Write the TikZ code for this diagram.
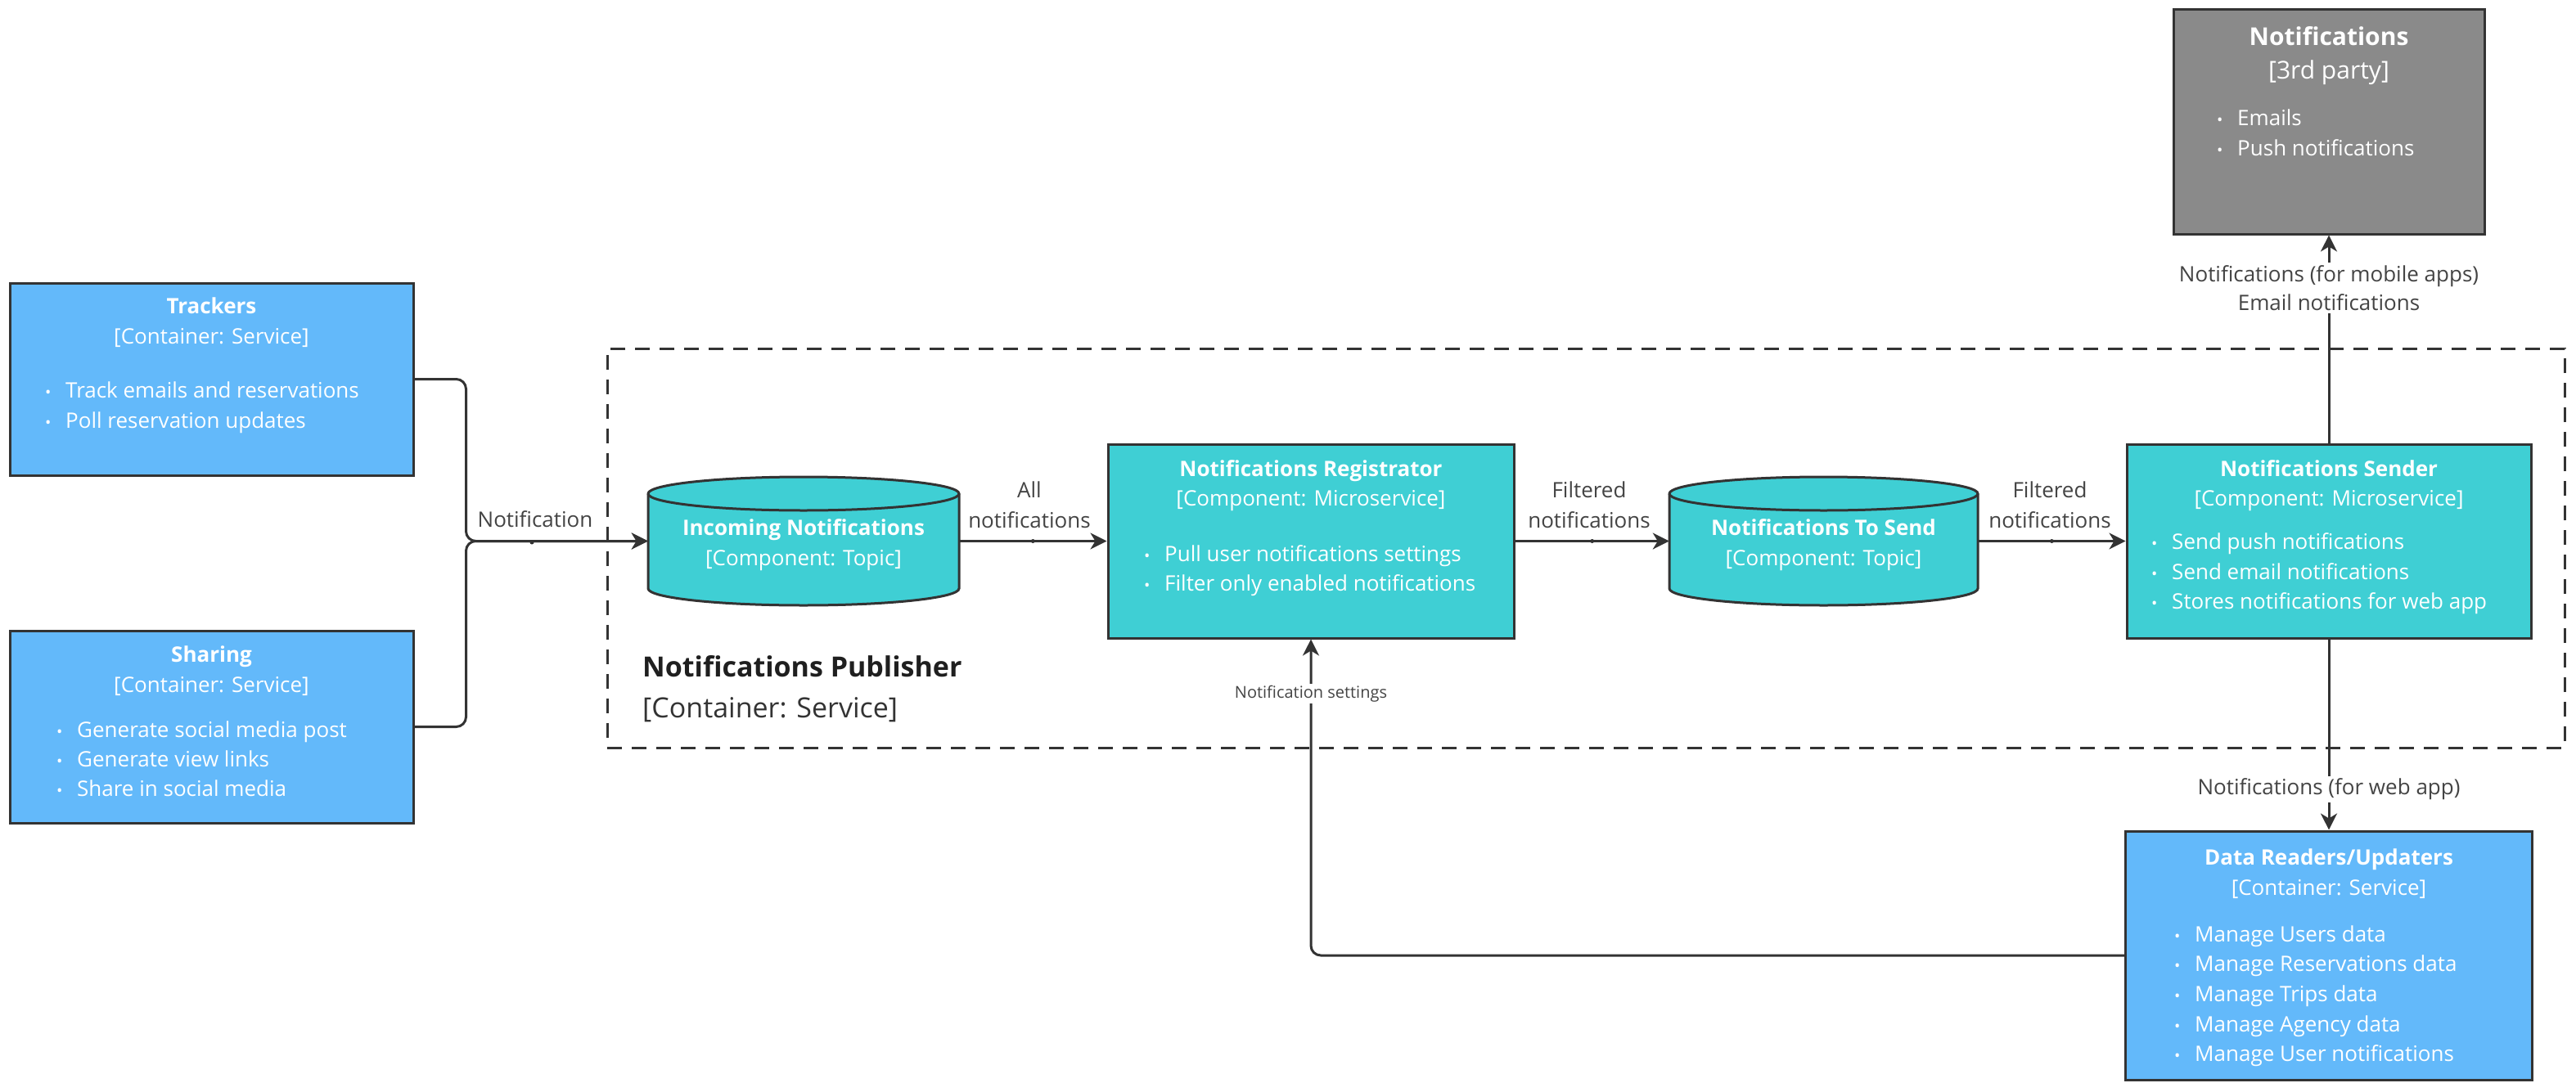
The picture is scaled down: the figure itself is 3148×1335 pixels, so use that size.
\documentclass[tikz,border=0pt]{standalone}
\usepackage{fontspec}
\setmainfont{Open Sans}
\usetikzlibrary{arrows.meta}
\definecolor{cblue}{HTML}{63B9FA}
\definecolor{cteal}{HTML}{3FCFD4}
\definecolor{cgray}{HTML}{8A8A8A}
\definecolor{cline}{HTML}{333333}
\definecolor{clabel}{HTML}{444444}
\newcommand\bul[1]{\makebox[25pt][l]{\scalebox{0.75}{•}}#1}
\newcommand\drawcyl[4]{%
  \filldraw[fill=cteal, draw=cline, line width=3pt] (#1-#3, #2-20.5) -- (#1-#3, #4+20.5)
    arc[start angle=180, end angle=360, x radius=#3, y radius=20.5] -- (#1+#3, #2-20.5)
    arc[start angle=0, end angle=180, x radius=#3, y radius=20.5] -- cycle;
  \draw[cline, line width=3pt] (#1+#3, #2-20.5) arc[start angle=0, end angle=-180, x radius=#3, y radius=20.5];
}
\begin{document}
\begin{tikzpicture}[x=1pt,y=1pt,
  box/.style={draw=cline, line width=3pt, inner sep=0pt},
  anchorbox/.style={inner sep=0pt},
  wt/.style={text=white, font=\fontsize{26}{36}\selectfont, inner sep=0pt},
  wtb/.style={wt, font=\fontsize{26}{36}\selectfont\bfseries},
  lbl/.style={text=clabel, font=\fontsize{26}{37}\selectfont, align=center, inner sep=3pt},
  conn/.style={draw=cline, line width=3pt, -{Stealth[length=20pt,width=20pt,inset=6pt]}},
  middot/.style={circle, fill=cline, inner sep=0pt, minimum size=5pt},
]
\fill[white] (0,0) rectangle (3148,-1335);
\useasboundingbox (0,0) rectangle (3148,-1335);

% boundary
\node[draw=cline, line width=3pt, dash pattern=on 18pt off 12pt, minimum width=2392pt, minimum height=488pt, inner sep=0pt] (pub) at (1938,-670) {};
\node[anchor=mid west, inner sep=0pt, text=black!88, font=\fontsize{34}{40}\selectfont\bfseries] (pubt) at (785,-825) {Notifications Publisher};
\node[anchor=mid west, inner sep=0pt, text=black!80, font=\fontsize{34}{40}\selectfont] (pubs) at (785,-875) {[Container: Service]};

% boxes
\node[box, fill=cblue, minimum width=493pt, minimum height=235pt] (trk) at (258.5,-463.5) {};
\node[box, fill=cblue, minimum width=493pt, minimum height=235pt] (shr) at (258.5,-888.5) {};
\node[box, fill=cteal, minimum width=496pt, minimum height=237pt] (reg) at (1602,-661.5) {};
\node[box, fill=cteal, minimum width=494pt, minimum height=237pt] (snd) at (2846,-661.5) {};
\node[box, fill=cblue, minimum width=497pt, minimum height=304pt] (dat) at (2846,-1168) {};
\node[box, fill=cgray, minimum width=380pt, minimum height=274pt] (tp) at (2846,-149) {};

% cylinders
\drawcyl{982}{-583}{190}{-740}
\node[anchorbox, minimum width=380pt, minimum height=157pt] (inc) at (982,-661.5) {};
\drawcyl{2228.5}{-583}{188.5}{-740}
\node[anchorbox, minimum width=377pt, minimum height=157pt] (tos) at (2228.5,-661.5) {};

% connectors
\draw[conn, rounded corners=12pt] (trk.east) -- ++(63,0) |- (inc.west);
\draw[conn, rounded corners=12pt] (shr.east) -- ++(63,0) |- (inc.west);
\node[middot] (d1) at (650,-663) {};
\node[lbl, anchor=south] (l1) at (654,-648) {Notification};

\draw[conn] (inc.east) -- (reg.west) node[middot, pos=0.5] (d2) {};
\node[lbl] (l2) at (1258,-617.5) {All\\notifications};

\draw[conn] (reg.east) -- (tos.west) node[middot, pos=0.5] (d3) {};
\node[lbl] (l3) at (1942,-617.5) {Filtered\\notifications};

\draw[conn] (tos.east) -- (snd.west) node[middot, pos=0.5] (d4) {};
\node[lbl] (l4) at (2505,-617.5) {Filtered\\notifications};

\draw[conn] (snd.north) -- (tp.south);
\node[lbl, fill=white, font=\fontsize{26}{35}\selectfont] (l5) at (2846,-352) {Notifications (for mobile apps)\\Email notifications};

\draw[conn] (snd.south) -- (dat.north);
\node[lbl, fill=white] (l6) at (2846,-965) {Notifications (for web app)};

\draw[conn, rounded corners=12pt] (dat.west) -| (reg.south);
\node[lbl, fill=white, font=\fontsize{20}{24}\selectfont, inner sep=2pt] (l7) at (1602,-848) {Notification settings};

% texts: Trackers
\node[wtb, anchor=mid] (t1) at (258.5,-381) {Trackers};
\node[wt, anchor=mid] (t2) at (258.5,-418) {[Container: Service]};
\node[wt, anchor=mid west] (t3) at (55,-484) {\bul{Track emails and reservations}};
\node[wt, anchor=mid west] (t4) at (55,-521) {\bul{Poll reservation updates}};
% Sharing
\node[wtb, anchor=mid] (s1) at (258.5,-807) {Sharing};
\node[wt, anchor=mid] (s2) at (258.5,-844) {[Container: Service]};
\node[wt, anchor=mid west] (s3) at (69,-899) {\bul{Generate social media post}};
\node[wt, anchor=mid west] (s4) at (69,-935) {\bul{Generate view links}};
\node[wt, anchor=mid west] (s5) at (69,-971) {\bul{Share in social media}};
% Incoming
\node[wtb, anchor=mid] (i1) at (982,-652) {Incoming Notifications};
\node[wt, anchor=mid] (i2) at (982,-689) {[Component: Topic]};
% Registrator
\node[wtb, anchor=mid] (r1) at (1602,-580) {Notifications Registrator};
\node[wt, anchor=mid] (r2) at (1602,-616) {[Component: Microservice]};
\node[wt, anchor=mid west] (r3) at (1398,-684) {\bul{Pull user notifications settings}};
\node[wt, anchor=mid west] (r4) at (1398,-720) {\bul{Filter only enabled notifications}};
% To send
\node[wtb, anchor=mid] (o1) at (2228.5,-652) {Notifications To Send};
\node[wt, anchor=mid] (o2) at (2228.5,-689) {[Component: Topic]};
% Sender
\node[wtb, anchor=mid] (n1) at (2846,-580) {Notifications Sender};
\node[wt, anchor=mid] (n2) at (2846,-616) {[Component: Microservice]};
\node[wt, anchor=mid west] (n3) at (2629,-669) {\bul{Send push notifications}};
\node[wt, anchor=mid west] (n4) at (2629,-706) {\bul{Send email notifications}};
\node[wt, anchor=mid west] (n5) at (2629,-742) {\bul{Stores notifications for web app}};
% Data
\node[wtb, anchor=mid] (a1) at (2846,-1055) {Data Readers/Updaters};
\node[wt, anchor=mid] (a2) at (2846,-1092) {[Container: Service]};
\node[wt, anchor=mid west] (a3) at (2657,-1149) {\bul{Manage Users data}};
\node[wt, anchor=mid west] (a4) at (2657,-1185) {\bul{Manage Reservations data}};
\node[wt, anchor=mid west] (a5) at (2657,-1222) {\bul{Manage Trips data}};
\node[wt, anchor=mid west] (a6) at (2657,-1259) {\bul{Manage Agency data}};
\node[wt, anchor=mid west] (a7) at (2657,-1295) {\bul{Manage User notifications}};
% 3rd party
\node[wt, anchor=mid, font=\fontsize{30}{36}\selectfont\bfseries] (p1) at (2846,-53) {Notifications};
\node[wt, anchor=mid, font=\fontsize{30}{36}\selectfont] (p2) at (2846,-94) {[3rd party]};
\node[wt, anchor=mid west] (p3) at (2709,-151) {\bul{Emails}};
\node[wt, anchor=mid west] (p4) at (2709,-188) {\bul{Push notifications}};
\end{tikzpicture}
\end{document}
